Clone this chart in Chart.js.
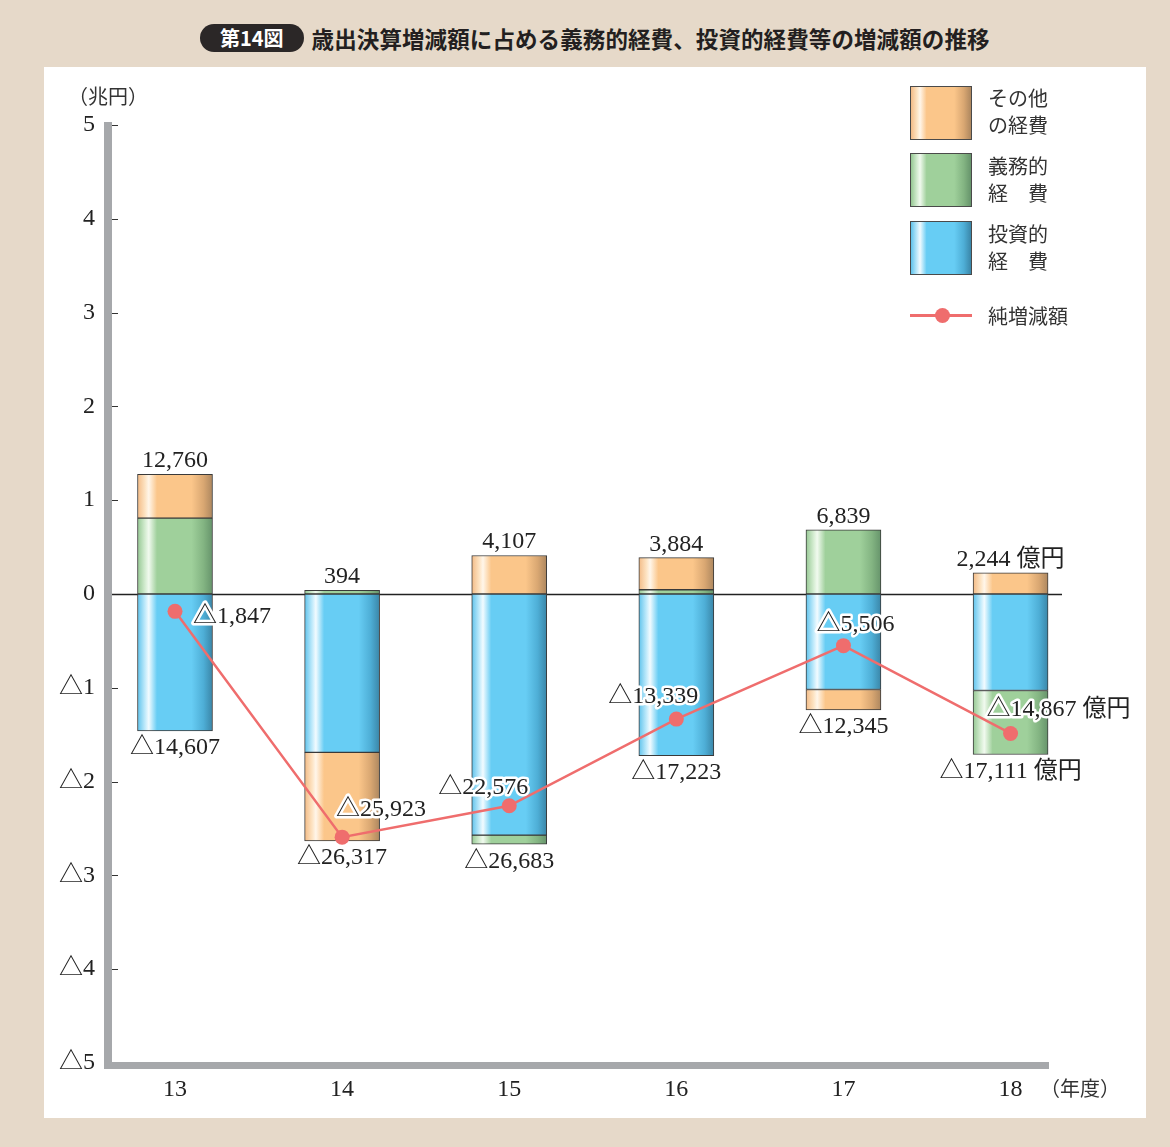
<!DOCTYPE html>
<html lang="ja">
<head>
<meta charset="utf-8">
<title>第14図</title>
<script src="https://cdn.jsdelivr.net/npm/chart.js@4.4.1/dist/chart.umd.min.js"></script>
<style>
  html, body { margin: 0; padding: 0; }
  body {
    width: 1170px; height: 1147px; position: relative; overflow: hidden;
    background: #e6d9c9; font-family: "Noto Sans CJK JP", sans-serif; color: #231f20;
  }
  #panel { position: absolute; left: 44px; top: 67px; width: 1102px; height: 1051px; background: #fff; }
  #title { position: absolute; left: 200px; top: 24px; height: 28px; display: flex; align-items: center; }
  #title .tag {
    background: #2b2727; color: #fff; font-weight: 700; font-size: 20px;
    height: 28px; line-height: 28px; padding: 0 20px; border-radius: 14px;
  }
  #title .text { margin-left: 8px; font-weight: 700; font-size: 22.5px; letter-spacing: 0.1px; }
  #chart { position: absolute; left: 0; top: 0; }
  .sw { position: absolute; left: 910px; width: 62px; height: 54px; box-sizing: border-box; border: 1px solid #4a4a4a; }
  .lg { position: absolute; left: 988px; font-size: 20px; line-height: 27px; color: #333; }
  .unit { position: absolute; font-size: 20px; color: #333; }
  #lg-line { position: absolute; left: 910px; top: 314px; width: 62px; height: 2.5px; background: #ef6d6d; }
  #lg-dot { position: absolute; left: 935px; top: 308px; width: 15px; height: 15px; border-radius: 50%; background: #ef6d6d; }
</style>
</head>
<body>
<div id="panel"></div>
<div id="title"><span class="tag">第14図</span><span class="text">歳出決算増減額に占める義務的経費、投資的経費等の増減額の推移</span></div>
<canvas id="chart" width="1170" height="1147"></canvas>

<div class="sw" style="top:86px;background:linear-gradient(90deg,#f3bb86 0%,#fde3c2 10%,#fff6ea 15%,#fbc68a 26%,#fbc68a 72%,#d9a772 88%,#ad875f 100%)"></div>
<div class="sw" style="top:153px;background:linear-gradient(90deg,#95c893 0%,#d3ecd0 10%,#f1faef 15%,#9fd09b 26%,#9fd09b 72%,#83b482 88%,#66946b 100%)"></div>
<div class="sw" style="top:221px;background:linear-gradient(90deg,#5fc3ec 0%,#bfeafb 10%,#f2fbff 15%,#67cdf4 26%,#67cdf4 72%,#4eaed6 88%,#3a86a8 100%)"></div>
<div class="lg" style="top:84px">その他<br>の経費</div>
<div class="lg" style="top:152px">義務的<br>経　費</div>
<div class="lg" style="top:220px">投資的<br>経　費</div>
<div id="lg-line"></div><div id="lg-dot"></div>
<div class="lg" style="top:302px">純増減額</div>
<div class="unit" style="left:68px;top:81px">（兆円）</div>
<div class="unit" style="left:1040px;top:1073px">（年度）</div>

<script>
// 年度
const years = [13, 14, 15, 16, 17, 18];
// 増減額（億円）
const investValues = [-14607, -16880, -25700, -17223, -10180, -10290];
const mandatoryValues = [8090, 394, -983, 450, 6839, -6821];
const otherValues = [4670, -9437, 4107, 3434, -2165, 2244];
const netValues = [-1847, -25923, -22576, -13339, -5506, -14867];
const yTicks = [-5, -4, -3, -2, -1, 0, 1, 2, 3, 4, 5];

// 億円 -> 兆円
const toCho = v => v / 10000;
const pts = arr => arr.map((v, i) => ({ x: years[i], y: toCho(v) }));

const fmt = v => (v < 0 ? '△' : '') + Math.abs(v).toLocaleString('en-US');
const unitFor = i => (i === years.length - 1 ? ' 億円' : '');

const BAR_W = 75;
const SERIF = "'Liberation Serif', 'Noto Sans CJK JP', serif";

function barFill(base, edge, light, white, mid, dark) {
  return ctx => {
    const chart = ctx.chart;
    const xs = chart.scales && chart.scales.x;
    if (!chart.chartArea || !xs || !ctx.raw) return base;
    const cx = xs.getPixelForValue(ctx.raw.x);
    const g = chart.ctx.createLinearGradient(cx - BAR_W / 2, 0, cx + BAR_W / 2, 0);
    g.addColorStop(0, edge);
    g.addColorStop(0.1, light);
    g.addColorStop(0.15, white);
    g.addColorStop(0.26, base);
    g.addColorStop(0.72, base);
    g.addColorStop(0.88, mid);
    g.addColorStop(1, dark);
    return g;
  };
}

// label placement for the net line (relative to the point)
const netLabelPos = [
  { dx: 18, dy: 12, align: 'left' },
  { dx: -6, dy: -21, align: 'left' },
  { dx: 19, dy: -12, align: 'right' },
  { dx: 22, dy: -16, align: 'right' },
  { dx: -27, dy: -15, align: 'left' },
  { dx: -24, dy: -17, align: 'left' }
];

const axisPlugin = {
  id: 'axisDeco',
  beforeDatasetsDraw(chart) {
    const { ctx, chartArea: a, scales: { y } } = chart;
    ctx.save();
    // gray axes
    ctx.fillStyle = '#a6a8ab';
    ctx.fillRect(a.left - 8, a.top - 3, 8, a.bottom - a.top + 9);
    ctx.fillRect(a.left - 8, a.bottom - 1, a.right - a.left + 8, 7);
    // small tick marks
    ctx.strokeStyle = '#333';
    ctx.lineWidth = 1;
    yTicks.forEach(t => {
      if (t === -5) return;
      const py = Math.round(y.getPixelForValue(t)) + 0.5;
      ctx.beginPath();
      ctx.moveTo(a.left, py);
      ctx.lineTo(a.left + 6, py);
      ctx.stroke();
    });
    // zero line
    const y0 = Math.round(y.getPixelForValue(0)) + 0.5;
    ctx.strokeStyle = '#222';
    ctx.lineWidth = 1.3;
    ctx.beginPath();
    ctx.moveTo(a.left, y0);
    ctx.lineTo(a.right + 13, y0);
    ctx.stroke();
    ctx.restore();
  }
};

const labelPlugin = {
  id: 'valueLabels',
  afterDatasetsDraw(chart) {
    const { ctx, scales: { x, y } } = chart;
    ctx.save();
    ctx.font = '24px ' + SERIF;
    ctx.fillStyle = '#222';
    years.forEach((yr, i) => {
      const parts = [investValues[i], mandatoryValues[i], otherValues[i]];
      const pos = parts.filter(v => v > 0).reduce((s, v) => s + v, 0);
      const neg = parts.filter(v => v < 0).reduce((s, v) => s + v, 0);
      const cx = x.getPixelForValue(yr);
      ctx.textAlign = 'center';
      ctx.textBaseline = 'alphabetic';
      ctx.fillText(fmt(pos) + unitFor(i), cx, y.getPixelForValue(toCho(pos)) - 7);
      ctx.textBaseline = 'top';
      ctx.fillText(fmt(neg) + unitFor(i), cx, y.getPixelForValue(toCho(neg)) + 5);
    });
    // net labels with white halo
    ctx.textBaseline = 'alphabetic';
    ctx.lineJoin = 'round';
    years.forEach((yr, i) => {
      const p = netLabelPos[i];
      const px = x.getPixelForValue(yr) + p.dx;
      const py = y.getPixelForValue(toCho(netValues[i])) + p.dy;
      const txt = fmt(netValues[i]) + unitFor(i);
      ctx.textAlign = p.align;
      ctx.strokeStyle = '#fff';
      ctx.lineWidth = 5;
      ctx.strokeText(txt, px, py);
      ctx.fillStyle = '#222';
      ctx.fillText(txt, px, py);
    });
    ctx.restore();
  }
};

const barCommon = {
  borderColor: '#3a3a3a',
  borderWidth: 1,
  borderSkipped: false,
  barThickness: BAR_W,
  stack: 'bars'
};

new Chart(document.getElementById('chart'), {
  type: 'bar',
  data: {
    datasets: [
      Object.assign({ label: '投資的経費', data: pts(investValues),
        backgroundColor: barFill('#67cdf4', '#5fc3ec', '#bfeafb', '#f2fbff', '#4eaed6', '#3a86a8') }, barCommon),
      Object.assign({ label: '義務的経費', data: pts(mandatoryValues),
        backgroundColor: barFill('#9fd09b', '#95c893', '#d3ecd0', '#f1faef', '#83b482', '#66946b') }, barCommon),
      Object.assign({ label: 'その他の経費', data: pts(otherValues),
        backgroundColor: barFill('#fbc68a', '#f3bb86', '#fde3c2', '#fff6ea', '#d9a772', '#ad875f') }, barCommon),
      {
        type: 'line',
        label: '純増減額',
        data: pts(netValues),
        stack: 'net',
        order: -1,
        borderColor: '#ef6d6d',
        borderWidth: 2.5,
        backgroundColor: '#ef6d6d',
        pointRadius: 7.5,
        pointBorderWidth: 0,
        tension: 0
      }
    ]
  },
  options: {
    responsive: false,
    animation: false,
    events: [],
    layout: { padding: { left: 0, right: 121, top: 125, bottom: 0 } },
    plugins: { legend: { display: false }, tooltip: { enabled: false } },
    scales: {
      x: {
        type: 'linear',
        offset: false,
        stacked: true,
        min: 12.623,
        max: 18.23,
        grid: { display: false, drawTicks: false },
        border: { display: false },
        afterBuildTicks: s => { s.ticks = years.map(v => ({ value: v })); },
        afterFit: s => { s.height = 84; },
        ticks: {
          padding: 12,
          color: '#222',
          font: { family: SERIF, size: 24 },
          callback: v => String(v)
        }
      },
      y: {
        stacked: true,
        min: -5,
        max: 5,
        grid: { display: false, drawTicks: false },
        border: { display: false },
        afterBuildTicks: s => { s.ticks = yTicks.map(v => ({ value: v })); },
        afterFit: s => { s.width = 112; },
        ticks: {
          padding: 17,
          color: '#222',
          font: { family: SERIF, size: 24 },
          callback: v => (v < 0 ? '△' + (-v) : String(v))
        }
      }
    }
  },
  plugins: [axisPlugin, labelPlugin]
});
</script>
</body>
</html>
